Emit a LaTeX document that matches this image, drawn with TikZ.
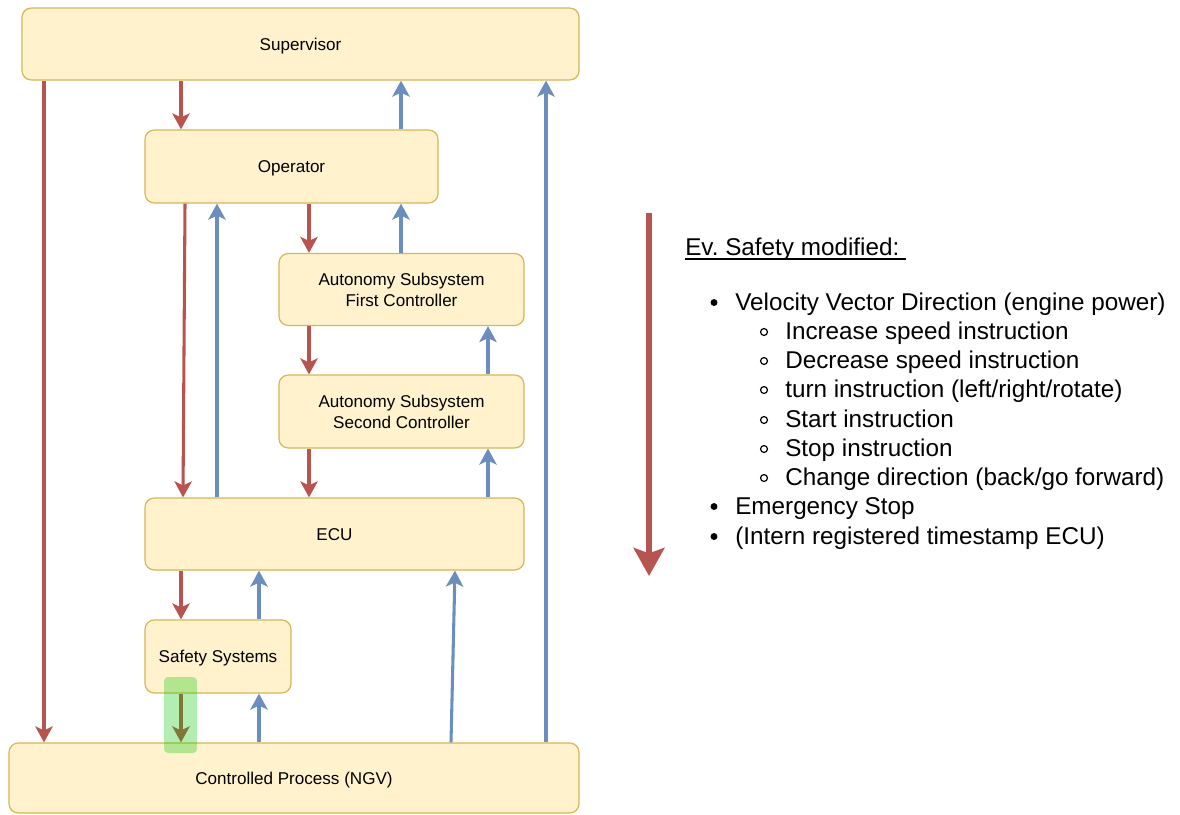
\documentclass[tikz,border=0pt]{standalone}
\usepackage{fontspec}
\setmainfont{Liberation Sans}
\usetikzlibrary{arrows.meta}

\definecolor{boxfill}{HTML}{FFF2CC}
\definecolor{boxline}{HTML}{D6B656}
\definecolor{ctrl}{HTML}{B85450}
\definecolor{fback}{HTML}{6C8EBF}
\definecolor{hlgreen}{HTML}{00C800}

\begin{document}
\begin{tikzpicture}[x=0.75pt,y=-0.75pt,
  block/.style={draw=boxline, fill=boxfill, line width=0.9pt, rounded corners=7pt,
    align=center, inner sep=0pt, font=\fontsize{12.8pt}{15.6pt}\selectfont},
  oneline/.style={text height=9pt, text depth=0pt},
  ctl/.style={draw=ctrl, line width=2.3pt,
    -{Stealth[length=12pt, width=13pt, inset=3pt]}},
  fb/.style={draw=fback, line width=2.3pt,
    -{Stealth[length=12pt, width=13pt, inset=3pt]}},
  big/.style={draw=ctrl, line width=5pt,
    -{Stealth[length=21pt, width=23pt, inset=4pt]}},
  lgtext/.style={anchor=base west, inner sep=0pt, font=\fontsize{18.2pt}{21.8pt}\selectfont},
]
\useasboundingbox (0,0) rectangle (1180,814);

% blocks of the control structure
\node[block, oneline, minimum width=417.75pt, minimum height=54pt]   (sup)  at (300.5,44)  {Supervisor};
\node[block, oneline, minimum width=219.75pt, minimum height=54.75pt] (op)  at (291.5,166.5) {Operator};
\node[block, minimum width=183.75pt, minimum height=54pt]   (asfc) at (401.5,289.5) {Autonomy Subsystem\\First Controller};
\node[block, minimum width=183.75pt, minimum height=54.75pt] (assc) at (401.5,411.5) {Autonomy Subsystem\\Second Controller};
\node[block, oneline, minimum width=284.25pt, minimum height=54pt]   (ecu)  at (334.5,534) {ECU};
\node[block, oneline, minimum width=109.5pt, minimum height=54.75pt] (safe) at (218,656.5) {Safety Systems};
\node[block, oneline, minimum width=427.5pt, minimum height=52.5pt]  (cp)   at (294,778) {Controlled Process (NGV)};

% connector columns
\coordinate (xa) at (44,0);
\coordinate (xb) at (181,0);
\coordinate (xc1) at (185,0);
\coordinate (xc2) at (183,0);
\coordinate (xd) at (217,0);
\coordinate (xe) at (259,0);
\coordinate (xf) at (309,0);
\coordinate (xg) at (401,0);
\coordinate (xh1) at (451,0);
\coordinate (xh2) at (455,0);
\coordinate (xi) at (488,0);
\coordinate (xj) at (546,0);

% control actions
\draw[ctl] (sup.south -| xa) -- (cp.north -| xa);
\draw[ctl] (sup.south -| xb) -- (op.north -| xb);
\draw[ctl] (op.south -| xc1) -- (ecu.north -| xc2);
\draw[ctl] (op.south -| xf) -- (asfc.north -| xf);
\draw[ctl] (asfc.south -| xf) -- (assc.north -| xf);
\draw[ctl] (assc.south -| xf) -- (ecu.north -| xf);
\draw[ctl] (ecu.south -| xb) -- (safe.north -| xb);
\draw[ctl] (safe.south -| xb) -- (cp.north -| xb);

% feedback
\draw[fb] (op.north -| xg) -- (sup.south -| xg);
\draw[fb] (cp.north -| xj) -- (sup.south -| xj);
\draw[fb] (ecu.north -| xd) -- (op.south -| xd);
\draw[fb] (asfc.north -| xg) -- (op.south -| xg);
\draw[fb] (assc.north -| xi) -- (asfc.south -| xi);
\draw[fb] (ecu.north -| xi) -- (assc.south -| xi);
\draw[fb] (safe.north -| xe) -- (ecu.south -| xe);
\draw[fb] (cp.north -| xe) -- (safe.south -| xe);
\draw[fb] (cp.north -| xh1) -- (ecu.south -| xh2);

% highlighted control action
\fill[hlgreen, opacity=0.3, rounded corners=3pt] (164,677) rectangle (197,753);

% legend
\coordinate (lgtop) at (649,213);
\coordinate (lgbot) at (649,576);
\draw[big] (lgtop) -- (lgbot);

\node[lgtext] (ttl) at (685,255) {Ev.\ Safety modified:\kern5pt};
\draw[line width=1.2pt] ([yshift=-3pt]ttl.base west) -- ([yshift=-3pt]ttl.base east);

\node[lgtext] (l1) at (735,310) {Velocity Vector Direction (engine power)};
\node[lgtext] (l2) at (785,339) {Increase speed instruction};
\node[lgtext] (l3) at (785,368) {Decrease speed instruction};
\node[lgtext] (l4) at (785,397) {turn instruction (left/right/rotate)};
\node[lgtext] (l5) at (785,427) {Start instruction};
\node[lgtext] (l6) at (785,456) {Stop instruction};
\node[lgtext] (l7) at (785,485) {Change direction (back/go forward)};
\node[lgtext] (l8) at (735,514) {Emergency Stop};
\node[lgtext] (l9) at (735,544) {(Intern registered timestamp ECU)};

% list bullets
\foreach \y in {310,514,544} \fill (714,\y-7.5) circle (2.6pt);
\foreach \y in {339,368,397,427,456,485} \draw[line width=0.9pt] (764,\y-7) circle (2.6pt);
\end{tikzpicture}
\end{document}
